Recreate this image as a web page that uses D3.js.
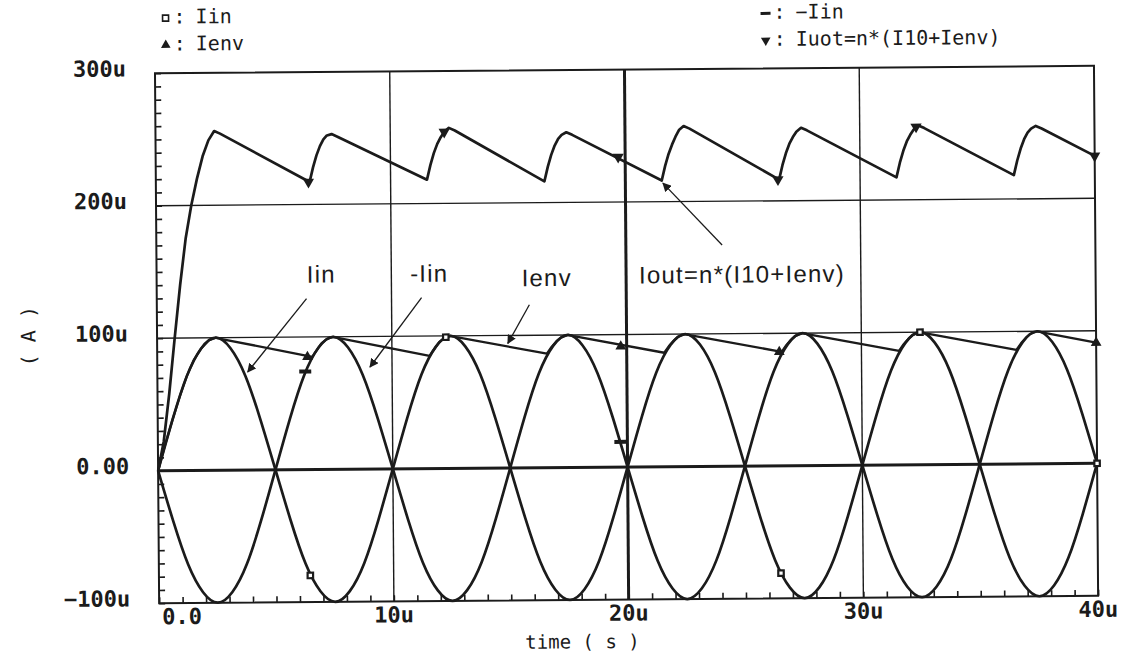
<!DOCTYPE html>
<html>
<head>
<meta charset="utf-8">
<title>Iin, Ienv, Iout</title>
<script src="https://d3js.org/d3.v7.min.js"></script>
<style>
  body { margin: 0; background: #fff; }
  text { fill: #1b1b1b; }
</style>
</head>
<body>
<script>
const width = 1125;
const height = 655;

// time axis in micro-seconds, currents in micro-amps
const sampleTimes = d3.range(0, 40.001, 0.625);

const iin = [
    0, 38, 71, 92, 100, 92, 71, 38, 0, -38, -71, -92, -100, -92, -71, -38,
    0, 38, 71, 92, 100, 92, 71, 38, 0, -38, -71, -92, -100, -92, -71, -38,
    0, 38, 71, 92, 100, 92, 71, 38, 0, -38, -71, -92, -100, -92, -71, -38,
    0, 38, 71, 92, 100, 92, 71, 38, 0, -38, -71, -92, -100, -92, -71, -38,
    0
];
const negIin = [
    0, -38, -71, -92, -100, -92, -71, -38, 0, 38, 71, 92, 100, 92, 71, 38,
    0, -38, -71, -92, -100, -92, -71, -38, 0, 38, 71, 92, 100, 92, 71, 38,
    0, -38, -71, -92, -100, -92, -71, -38, 0, 38, 71, 92, 100, 92, 71, 38,
    0, -38, -71, -92, -100, -92, -71, -38, 0, 38, 71, 92, 100, 92, 71, 38,
    0
];

const envTimes = [0, 0.3, 0.625, 0.95, 1.25, 1.55, 1.875, 2.2, 2.5, 2.75,
    6.6, 6.8, 7.0, 7.2, 7.5, 7.75,
    11.6, 11.8, 12.0, 12.2, 12.5, 12.75,
    16.6, 16.8, 17.0, 17.2, 17.5, 17.75,
    21.6, 21.8, 22.0, 22.2, 22.5, 22.75,
    26.6, 26.8, 27.0, 27.2, 27.5, 27.75,
    31.6, 31.8, 32.0, 32.2, 32.5, 32.75,
    36.6, 36.8, 37.0, 37.2, 37.5, 37.75,
    40];
const ienv = [0, 19, 38, 56, 71, 83, 92, 98, 100, 99,
    85, 90, 95, 98, 100, 99,
    85, 90, 95, 98, 100, 99,
    86, 91, 95, 98, 100, 99,
    86, 91, 95, 98, 100, 99,
    86, 91, 95, 98, 100, 99,
    86, 91, 95, 98, 100, 99,
    86, 91, 95, 98, 100, 99,
    91];

const outTimes = [0, 0.25, 0.5, 0.75, 1.0, 1.25, 1.5, 1.75, 2.0, 2.25, 2.5, 2.75,
    6.55, 6.7, 6.85, 7.0, 7.15, 7.3, 7.5, 7.75,
    11.55, 11.7, 11.85, 12.0, 12.15, 12.3, 12.5, 12.75,
    16.55, 16.7, 16.85, 17.0, 17.15, 17.3, 17.5, 17.75,
    21.55, 21.7, 21.85, 22.0, 22.15, 22.3, 22.5, 22.75,
    26.55, 26.7, 26.85, 27.0, 27.15, 27.3, 27.5, 27.75,
    31.55, 31.7, 31.85, 32.0, 32.15, 32.3, 32.5, 32.75,
    36.55, 36.7, 36.85, 37.0, 37.15, 37.3, 37.5, 37.75,
    40];
const iout = [0, 22, 58, 100, 140, 175, 200, 220, 237, 249, 256, 254,
    217, 228, 237, 244, 249, 252, 253, 251,
    218, 229, 238, 245, 250, 254, 257, 255,
    216, 227, 236, 243, 248, 251, 253, 251,
    216, 227, 236, 243, 249, 254, 257, 255,
    216, 227, 236, 243, 248, 252, 255, 253,
    217, 228, 237, 244, 249, 253, 256, 254,
    218, 229, 238, 245, 250, 253, 255, 253,
    232];

// marker positions: [time, value]
const iinMarks = [[6.45, -80], [12.3, 99], [26.5, -81], [32.5, 100], [40, 0]];
const envMarks = [[6.4, 85], [19.75, 91], [26.5, 86], [40, 91]];
const negIinMarks = [[6.3, 74], [19.7, 19]];
const ioutMarks = [[6.5, 217], [12.3, 254], [19.7, 234], [26.5, 216], [32.4, 255], [40, 232]];

const xTicks = [0, 10, 20, 30, 40];
const xTickLabels = ["0.0", "10u", "20u", "30u", "40u"];
const yTicks = [300, 200, 100, 0, -100];
const yTickLabels = ["300u", "200u", "100u", "0.00", "\u2212100u"];

const margin = {left: 157, right: 29, top: 70, bottom: 55};
const plotW = width - margin.left - margin.right;
const plotH = height - margin.top - margin.bottom;

const x = d3.scaleLinear().domain([0, 40]).range([margin.left, margin.left + plotW]);
const y = d3.scaleLinear().domain([-100, 300]).range([margin.top + plotH, margin.top]);

const svg = d3.select("body").append("svg")
    .attr("width", width)
    .attr("height", height)
    .style("display", "block");

// the scan is slightly tilted
const root = svg.append("g")
    .attr("transform", `rotate(-0.45, ${width / 2}, ${height / 2})`);

const ink = "#1b1b1b";

// grid
root.append("g").selectAll("line")
    .data([10, 20, 30])
    .join("line")
    .attr("x1", d => x(d)).attr("x2", d => x(d))
    .attr("y1", y(300)).attr("y2", y(-100))
    .attr("stroke", ink)
    .attr("stroke-width", d => d === 20 ? 3 : 1.4);

root.append("g").selectAll("line")
    .data([200, 100, 0])
    .join("line")
    .attr("x1", x(0)).attr("x2", x(40))
    .attr("y1", d => y(d)).attr("y2", d => y(d))
    .attr("stroke", ink)
    .attr("stroke-width", d => d === 0 ? 3 : 1.4);

// minor ticks, pointing inwards
const xMinor = root.append("g")
    .attr("transform", `translate(0,${y(-100)})`)
    .call(d3.axisBottom(x).tickValues(d3.range(0, 41, 1)).tickSize(-6).tickFormat(""));
const yMinor = root.append("g")
    .attr("transform", `translate(${x(0)},0)`)
    .call(d3.axisLeft(y).tickValues(d3.range(-100, 301, 10)).tickSize(-6).tickFormat(""));
[xMinor, yMinor].forEach(a => {
    a.select(".domain").remove();
    a.selectAll(".tick line").attr("stroke", ink).attr("stroke-width", 1.6);
});

// frame
root.append("rect")
    .attr("x", x(0)).attr("y", y(300))
    .attr("width", x(40) - x(0)).attr("height", y(-100) - y(300))
    .attr("fill", "none")
    .attr("stroke", ink)
    .attr("stroke-width", 2);

// tick labels
root.append("g").selectAll("text")
    .data(xTicks)
    .join("text")
    .attr("x", (d, i) => i === 0 ? x(d) + 3 : x(d))
    .attr("y", y(-100) + 15)
    .attr("text-anchor", (d, i) => i === 0 ? "start" : "middle")
    .attr("dominant-baseline", "middle")
    .attr("font-family", "DejaVu Sans Mono")
    .attr("font-weight", "bold")
    .attr("font-size", 22)
    .text((d, i) => xTickLabels[i]);

root.append("g").selectAll("text")
    .data(yTicks)
    .join("text")
    .attr("x", x(0) - 29)
    .attr("y", d => y(d) - 3)
    .attr("text-anchor", "end")
    .attr("dominant-baseline", "middle")
    .attr("font-family", "DejaVu Sans Mono")
    .attr("font-weight", "bold")
    .attr("font-size", 22)
    .text((d, i) => yTickLabels[i]);

// axis titles
root.append("text")
    .attr("x", 580).attr("y", 643)
    .attr("text-anchor", "middle")
    .attr("dominant-baseline", "middle")
    .attr("font-family", "DejaVu Sans Mono")
    .attr("font-size", 19)
    .text("time ( s )");

root.append("text")
    .attr("transform", "translate(30,332) rotate(-90)")
    .attr("text-anchor", "middle")
    .attr("dominant-baseline", "middle")
    .attr("font-family", "DejaVu Sans Mono")
    .attr("font-size", 20)
    .text("( A )");

// traces
const sineLine = d3.line()
    .x((d, i) => x(sampleTimes[i]))
    .y(d => y(d))
    .curve(d3.curveNatural);

const polyLine = times => d3.line()
    .x((d, i) => x(times[i]))
    .y(d => y(d));

const traces = root.append("g")
    .attr("fill", "none")
    .attr("stroke", ink)
    .attr("stroke-width", 2.7)
    .attr("stroke-linejoin", "round");

traces.append("path").attr("d", sineLine(iin));
traces.append("path").attr("d", sineLine(negIin));
traces.append("path").attr("d", polyLine(envTimes)(ienv)).attr("stroke-width", 2.3);
traces.append("path").attr("d", polyLine(outTimes)(iout));

// markers
const sym = (type, size) => d3.symbol().type(type).size(size)();

const markers = root.append("g");
markers.selectAll(".m-iin")
    .data(iinMarks)
    .join("path")
    .attr("transform", d => `translate(${x(d[0])},${y(d[1])})`)
    .attr("d", sym(d3.symbolSquare, 30))
    .attr("fill", "#fff")
    .attr("stroke", ink)
    .attr("stroke-width", 2.2);

markers.selectAll(".m-env")
    .data(envMarks)
    .join("path")
    .attr("transform", d => `translate(${x(d[0])},${y(d[1])})`)
    .attr("d", sym(d3.symbolTriangle, 50))
    .attr("fill", ink);

markers.selectAll(".m-neg")
    .data(negIinMarks)
    .join("rect")
    .attr("x", d => x(d[0]) - 6)
    .attr("y", d => y(d[1]) - 2)
    .attr("width", 12)
    .attr("height", 4)
    .attr("fill", ink);

markers.selectAll(".m-out")
    .data(ioutMarks)
    .join("path")
    .attr("transform", d => `translate(${x(d[0])},${y(d[1])}) rotate(180)`)
    .attr("d", sym(d3.symbolTriangle, 55))
    .attr("fill", ink);

// annotations with arrows
svg.append("defs").append("marker")
    .attr("id", "head")
    .attr("viewBox", "0 0 10 10")
    .attr("refX", 9).attr("refY", 5)
    .attr("markerWidth", 9).attr("markerHeight", 9)
    .attr("markerUnits", "userSpaceOnUse")
    .attr("orient", "auto")
    .append("path")
    .attr("d", "M0,0 L10,5 L0,10 Z")
    .attr("fill", ink);

const notes = [
    {text: "Iin", at: [6.4, 141], from: [6.38, 129], to: [3.85, 74]},
    {text: "-Iin", at: [10.8, 141], from: [11.28, 129], to: [9.06, 77]},
    {text: "Ienv", at: [15.55, 137], from: [15.87, 123], to: [14.94, 94]},
    {text: "Iout=n*(I10+Ienv)", at: [20.55, 138.5], from: [24.1, 167], to: [21.6, 214]}
];

const noteG = root.append("g");
noteG.selectAll("line")
    .data(notes)
    .join("line")
    .attr("x1", d => x(d.from[0])).attr("y1", d => y(d.from[1]))
    .attr("x2", d => x(d.to[0])).attr("y2", d => y(d.to[1]))
    .attr("stroke", ink)
    .attr("stroke-width", 1.3)
    .attr("marker-end", "url(#head)");

noteG.selectAll("text")
    .data(notes)
    .join("text")
    .attr("x", d => x(d.at[0]))
    .attr("y", d => y(d.at[1]))
    .attr("font-family", "Liberation Sans")
    .attr("font-size", 24)
    .attr("letter-spacing", 1.2)
    .text(d => d.text);

// legend
const legend = [
    {sym: "square", label: "Iin", x: 168, y: 15},
    {sym: "tri", label: "Ienv", x: 168, y: 42},
    {sym: "dash", label: "\u2212Iin", x: 768, y: 15},
    {sym: "down", label: "Iuot=n*(I10+Ienv)", x: 768, y: 42}
];

const lg = root.append("g");
legend.forEach(l => {
    const g = lg.append("g").attr("transform", `translate(${l.x},${l.y})`);
    if (l.sym === "square") {
        g.append("rect").attr("x", -3).attr("y", -3).attr("width", 6).attr("height", 6)
            .attr("fill", "#fff").attr("stroke", ink).attr("stroke-width", 1.6);
    } else if (l.sym === "tri") {
        g.append("path").attr("d", sym(d3.symbolTriangle, 40)).attr("fill", ink);
    } else if (l.sym === "dash") {
        g.append("rect").attr("x", -5).attr("y", -1.5).attr("width", 10).attr("height", 3).attr("fill", ink);
    } else {
        g.append("path").attr("transform", "rotate(180)").attr("d", sym(d3.symbolTriangle, 40)).attr("fill", ink);
    }
    g.append("text")
        .attr("x", 8).attr("y", 0)
        .attr("dominant-baseline", "middle")
        .attr("font-family", "DejaVu Sans Mono")
        .attr("font-size", 20)
        .text(":");
    g.append("text")
        .attr("x", 30).attr("y", 0)
        .attr("dominant-baseline", "middle")
        .attr("font-family", "DejaVu Sans Mono")
        .attr("font-size", 20)
        .text(l.label);
});
</script>
</body>
</html>
